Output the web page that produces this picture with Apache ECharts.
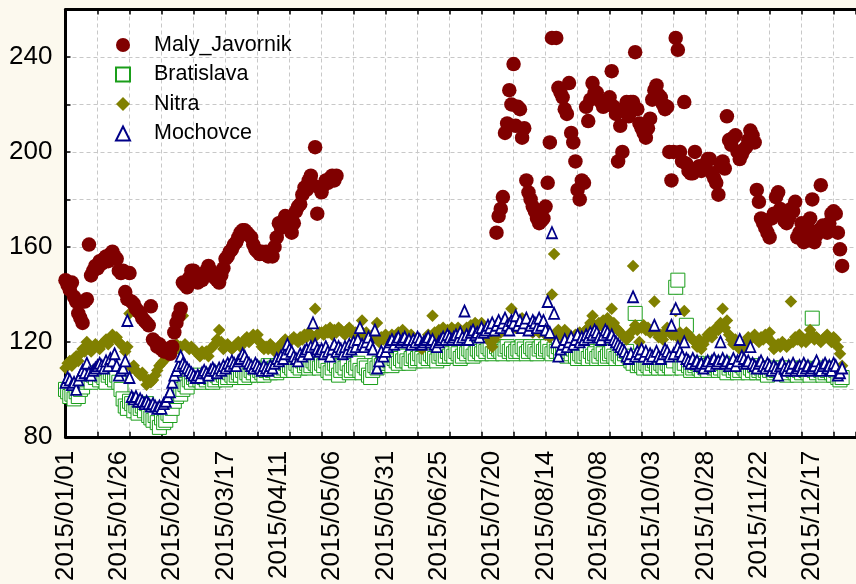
<!DOCTYPE html>
<html><head><meta charset="utf-8">
<script src="https://cdn.jsdelivr.net/npm/echarts@6/dist/echarts.min.js"></script>
<style>html,body{margin:0;padding:0;background:#fcf9ee}#c{width:856px;height:584px}</style>
</head><body><div id="c"></div>
<script>
// x tick labels (every 25 days from 2015/01/01)
const tickLabels = ['2015/01/01','2015/01/26','2015/02/20','2015/03/17','2015/04/11','2015/05/06','2015/05/31','2015/06/25','2015/07/20','2015/08/14','2015/09/08','2015/10/03','2015/10/28','2015/11/22','2015/12/17'];
const seriesNames = ['Maly_Javornik','Bratislava','Nitra','Mochovce'];
const _ = null;

// daily values, one row per month
const malyJavornik = [
 [146,144,142,145,139,137,132,130,128,137,138,161,148,150,152,151,154,153,155,156,154,157,158,156,155,150,149,150,141,138,149],
 [137,136,134,133,132,130,129,128,127,135,121,120,118,119,117,116,116,117,115,118,124,128,131,134,145,144,143,147],
 [150,150,146,145,147,146,148,150,152,150,149,147,146,145,148,151,155,156,158,159,161,162,164,166,167,167,166,165,164,161,159],
 [158,157,158,157,158,156,157,156,160,164,170,168,171,173,172,170,166,170,175,177,178,182,185,184,188,190,186,202,174,185],
 [183,186,188,187,189,190,188,190,_,_,_,_,_,_,_,_,_,_,_,_,_,_,_,_,_,_,_,_,_,_,_],
 [_,_,_,_,_,_,_,_,_,_,_,_,_,_,_,_,_,_,_,_,_,_,_,_,_,_,_,_,_,_],
 [_,_,_,_,_,_,_,_,_,_,_,_,_,_,_,_,_,_,_,_,_,166,173,176,181,208,212,226,220,237,211],
 [219,218,206,210,188,183,180,177,175,172,170,171,172,177,187,204,248,_,248,227,225,223,218,216,229,208,204,196,184,180,188],
 [187,219,213,222,229,225,225,222,221,219,221,220,223,234,219,216,196,211,200,218,221,215,221,221,242,218,212,210,208,206],
 [210,214,222,226,228,224,223,220,218,219,200,188,200,248,243,200,196,221,195,192,191,191,200,193,194,192,193,195,197,197,191],
 [189,187,182,194,196,193,215,205,203,206,207,200,197,199,201,202,205,209,207,204,184,179,172,170,168,166,164,172,174,181],
 [183,176,173,171,170,172,176,175,179,164,166,170,162,164,168,172,180,162,165,167,186,169,167,166,170,174,175,174,166,159,152]
].flat();

const bratislava = [
 [100,99,97,98,96,99,97,100,101,103,104,105,103,106,105,107,104,106,105,103,106,107,105,104,106,103,100,96,93,92,95],
 [94,91,93,90,92,93,91,94,89,88,87,89,86,84,88,86,87,90,89,92,95,97,99,98,100,102,101,104],
 [103,105,104,106,104,103,105,104,106,105,103,104,106,105,107,106,104,105,107,106,105,106,107,106,108,105,107,106,108,107,109],
 [106,108,107,106,108,110,107,108,109,107,110,108,109,111,108,110,109,108,111,110,109,112,110,111,109,110,112,111,110,109],
 [111,110,112,108,107,109,111,110,106,108,110,109,111,107,108,110,109,111,108,107,110,109,106,105,108,110,109,111,110,112,111],
 [111,112,110,113,112,111,113,112,114,112,111,113,114,112,113,115,113,112,114,113,115,114,113,112,114,115,113,114,116,114],
 [115,114,116,115,113,114,116,115,117,116,114,115,117,116,115,117,116,118,117,115,116,118,117,116,115,117,118,116,117,115,116],
 [117,116,118,117,115,116,118,117,116,115,117,118,116,117,118,116,115,117,116,118,115,117,116,114,116,115,117,114,113,115,114],
 [114,115,113,116,114,115,113,114,116,115,113,114,115,116,114,113,115,114,113,115,116,114,112,111,132,110,111,110,109,111],
 [110,109,111,112,110,109,111,110,109,111,110,109,112,143,146,110,109,111,127,110,108,109,110,111,109,108,110,109,108,110,111],
 [109,110,108,109,111,108,107,109,110,108,109,107,108,110,109,108,107,109,108,110,107,108,109,107,108,106,108,109,107,108],
 [108,107,109,108,106,107,109,108,107,106,108,107,109,108,107,106,130,108,107,109,108,106,107,108,109,107,106,108,105,104,105]
].flat();

const nitra = [
 [109,111,112,110,113,114,112,115,117,116,120,118,116,117,119,118,117,119,120,121,119,121,123,122,122,120,119,118,116,118,132],
 [109,110,108,107,106,107,105,102,104,103,104,106,108,110,111,112,114,115,117,116,118,119,117,118,131,119,118,117],
 [118,117,116,115,114,116,115,116,114,117,118,119,121,125,120,117,118,119,118,117,118,119,120,118,119,121,122,120,121,123,122],
 [123,120,118,117,118,117,119,118,116,117,118,119,120,121,119,120,121,122,121,120,122,121,123,122,124,123,122,134,123,124],
 [124,123,125,124,126,123,125,124,126,125,124,123,125,126,124,123,124,122,125,129,123,124,122,121,123,122,128,120,122,121,123],
 [122,121,123,120,122,124,123,125,124,122,121,123,122,121,120,118,117,119,121,123,122,131,124,123,125,124,126,123,125,124],
 [126,125,124,126,125,123,124,126,125,127,126,128,127,126,128,125,124,122,120,118,121,123,125,124,126,125,127,128,134,127,126],
 [128,127,130,129,127,126,125,124,126,125,124,126,125,123,124,122,140,157,124,125,123,122,125,124,123,122,121,123,122,124,123],
 [124,125,126,128,131,127,126,128,127,129,128,130,127,134,128,126,125,124,123,122,121,122,124,152,127,125,120,126,127,125],
 [126,124,125,137,124,122,123,121,124,126,125,123,123,133,122,124,121,133,124,123,122,121,120,118,121,117,119,121,123,124,122],
 [124,126,125,128,134,126,129,123,121,119,121,120,117,118,118,120,122,121,122,123,121,120,122,121,123,122,124,120,117,118],
 [119,118,120,119,118,119,137,120,122,121,123,120,121,120,122,125,123,121,122,121,120,121,122,123,121,120,122,121,118,115,110]
].flat();

const mochovce = [
 [103,105,104,102,103,100,104,106,108,107,111,107,106,108,109,110,111,110,109,112,110,113,112,115,110,106,108,109,112,129,105],
 [97,96,97,95,96,95,94,95,94,93,94,93,92,93,92,94,95,97,99,103,106,108,110,114,111,110,109,108],
 [107,106,105,106,105,107,108,107,106,108,109,108,107,109,108,110,109,111,110,112,111,110,112,113,115,114,112,111,110,109,111],
 [110,109,108,110,109,108,110,109,111,113,112,114,113,115,119,117,116,114,113,112,115,114,116,117,115,118,128,119,117,116],
 [117,115,118,116,114,117,119,116,118,117,115,118,116,119,117,120,118,121,126,119,118,120,122,119,117,125,109,112,116,114,116],
 [118,120,121,119,121,122,120,121,122,120,121,119,121,120,122,121,119,120,121,122,120,121,119,118,120,121,122,121,123,122],
 [121,122,123,121,124,122,133,123,121,124,125,123,124,122,126,124,125,127,126,128,125,127,129,126,128,130,127,125,129,128,131],
 [127,129,126,128,130,125,127,129,128,126,130,127,129,125,137,124,166,132,120,114,117,119,121,118,120,122,119,121,123,120,122],
 [121,123,122,124,123,125,124,122,121,123,125,124,122,123,121,120,119,118,117,116,114,113,115,139,114,116,115,117,114,116],
 [113,115,114,127,116,114,113,115,117,116,114,127,115,134,118,116,114,120,113,112,111,113,111,112,110,111,109,111,112,110,112],
 [113,111,112,120,113,111,112,110,111,113,110,112,121,114,113,111,112,118,111,110,109,111,112,110,109,111,110,108,110,109],
 [106,110,111,109,108,110,109,111,108,109,110,108,111,109,110,108,109,110,112,109,108,110,111,109,110,108,111,110,106,107,109]
].flat();

function toPairs(arr){ const out=[]; arr.forEach((v,i)=>{ if(v!==null) out.push([i,v]); }); return out; }

const FONT = 'Liberation Sans, Arial, sans-serif';
const X_MAX = 370.5;
const chart = echarts.init(document.getElementById('c'), null, {renderer:'canvas'});
const baseX = {
  type:'value', min:0, max:X_MAX, gridIndex:0,
  axisLine:{show:true, onZero:false, lineStyle:{color:'#000', width:3}},
  axisTick:{show:true, inside:true, length:5, lineStyle:{color:'#000', width:1.5}},
  axisLabel:{show:false}
};
chart.setOption({
  backgroundColor:'#fcf9ee',
  animation:false,
  grid:{left:65.5, top:9.5, right:0, height:428.5, show:true, backgroundColor:'#ffffff', borderWidth:0},
  legend:{
    orient:'vertical', left:110, top:29, itemWidth:14, itemHeight:14, itemGap:7.5,
    data:seriesNames,
    textStyle:{fontFamily:FONT, fontSize:21.5, color:'#000', lineHeight:22, padding:[0,0,0,19]}
  },
  xAxis:[
    Object.assign({}, baseX, {position:'bottom', interval:15,
      splitLine:{show:true, showMaxLine:false, lineStyle:{color:'#c8c8c8', type:[4,3], width:1}}}),
    Object.assign({}, baseX, {position:'top', interval:15, splitLine:{show:false}}),
    {type:'value', min:0, max:X_MAX, interval:25, position:'bottom', gridIndex:0,
     axisLine:{show:false}, axisTick:{show:false}, splitLine:{show:false},
     axisLabel:{show:true, rotate:90, margin:14, fontFamily:FONT, fontSize:26, color:'#000',
       formatter:function(v){ const k=v/25; return (Number.isInteger(k) && tickLabels[k]) ? tickLabels[k] : ''; }}}
  ],
  yAxis:[{
    type:'value', min:80, max:260, interval:20,
    axisLine:{show:true, onZero:false, lineStyle:{color:'#000', width:3}},
    axisTick:{show:true, inside:true, length:5, lineStyle:{color:'#000', width:1.5}},
    splitLine:{show:true, lineStyle:{color:'#c8c8c8', type:[4,3], width:1}},
    axisLabel:{margin:13, fontFamily:FONT, fontSize:26, color:'#000',
      formatter:function(v){ return (v % 40 === 0) ? String(v) : ''; }}
  }],
  series:[
    {name:'Bratislava', type:'scatter', xAxisIndex:0, z:2, data:toPairs(bratislava), symbol:'rect', symbolSize:14,
     itemStyle:{color:'#ffffff', borderColor:'#1a9e1a', borderWidth:1, opacity:1}},
    {name:'Nitra', type:'scatter', xAxisIndex:0, z:3, data:toPairs(nitra), symbol:'diamond', symbolSize:12.5,
     itemStyle:{color:'#808000', opacity:1}},
    {name:'Mochovce', type:'scatter', xAxisIndex:0, z:4, data:toPairs(mochovce), symbol:'triangle', symbolSize:[10,11],
     itemStyle:{color:'#ffffff', borderColor:'#000088', borderWidth:1.8, opacity:1}},
    {name:'Maly_Javornik', type:'scatter', xAxisIndex:0, z:5, data:toPairs(malyJavornik), symbol:'circle', symbolSize:14.5,
     itemStyle:{color:'#800000', opacity:1}}
  ]
});
</script></body></html>
